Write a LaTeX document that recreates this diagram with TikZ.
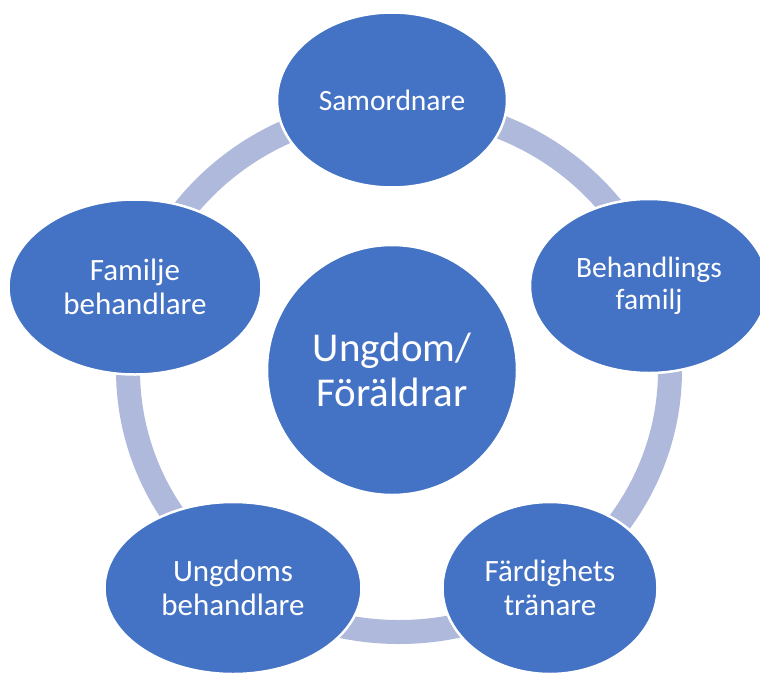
\documentclass[tikz,border=0pt]{standalone}
\usepackage{fontspec}
\setmainfont{Carlito}
\usetikzlibrary{shapes.geometric}
\definecolor{nodeblue}{HTML}{4472C4}
\definecolor{ringblue}{HTML}{AEB9DC}
\begin{document}
\begin{tikzpicture}[x=1pt,y=-1pt,
  bubble/.style={ellipse, fill=nodeblue, draw=white, line width=2.5pt, text=white, align=center, inner sep=0pt},
  bigfont/.style={font=\fontsize{31}{34}\selectfont},
  smallfont/.style={font=\fontsize{29.5}{32}\selectfont},
  ring/.style={draw=ringblue, line width=24pt}]
\useasboundingbox (0,0) rectangle (760,672);
\clip (0,0) rectangle (760,672);
\draw[ring] (399,370) ellipse [x radius=271, y radius=262];
\node[bubble, circle, minimum size=250pt, font=\fontsize{41}{45}\selectfont] (center) at (392,370) {Ungdom/\\Föräldrar};
\node[bubble, smallfont, minimum width=230pt, minimum height=175pt] (samordnare) at (392,100) {Samordnare};
\node[bubble, smallfont, minimum width=238pt, minimum height=174pt] (behfam) at (649,286) {Behandlings\\familj};
\node[bubble, bigfont, minimum width=215pt, minimum height=172pt] (fard) at (550,588) {Färdighets\\tränare};
\node[bubble, bigfont, minimum width=257pt, minimum height=172pt] (ungdoms) at (233,588) {Ungdoms\\behandlare};
\node[bubble, bigfont, minimum width=253pt, minimum height=175pt] (familje) at (135,287) {Familje\\behandlare};
\end{tikzpicture}
\end{document}
